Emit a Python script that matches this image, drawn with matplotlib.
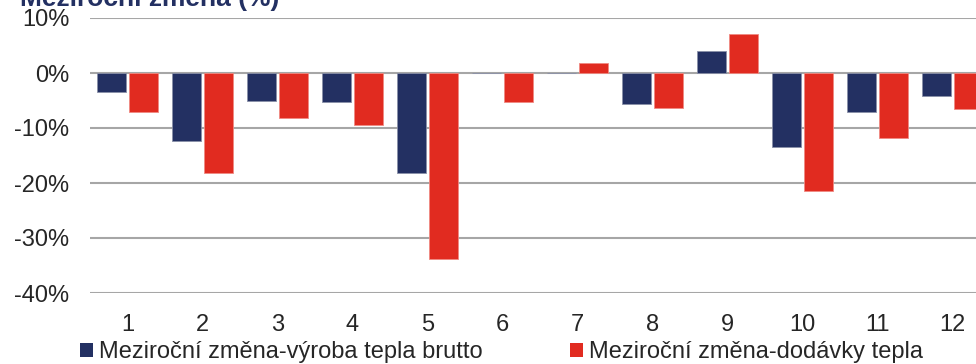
import numpy as np
import matplotlib.pyplot as plt
from matplotlib.patches import Patch

months = ["1", "2", "3", "4", "5", "6", "7", "8", "9", "10", "11", "12"]
vyroba = [-3.5, -12.4, -5.1, -5.3, -18.2, 0.0, 0.0, -5.6, 4.0, -13.5, -7.1, -4.1]
dodavky = [-7.1, -18.2, -8.2, -9.5, -33.8, -5.3, 1.8, -6.4, 7.1, -21.5, -11.8, -6.5]
yticks = [-40, -30, -20, -10, 0, 10]

navy = "#233062"
red = "#E12B20"
grid_c = "#A6A6A6"
txt_c = "#262626"

plt.rcParams['font.family'] = ['Liberation Sans', 'DejaVu Sans']

fig = plt.figure(figsize=(9.76, 3.64), dpi=100)
ax = fig.add_axes([90 / 976, 1 - 293 / 364, 900 / 976, 275 / 364])

x = np.arange(len(months))
w = 0.39
ax.bar(x - 0.215, vyroba, w, color=navy, edgecolor="#8A90A8", linewidth=0.6, zorder=3)
ax.bar(x + 0.215, dodavky, w, color=red, edgecolor="#F08A82", linewidth=0.6, zorder=3)

ax.set_xlim(-0.5, len(months) - 0.5)
ax.set_ylim(-40, 10)
ax.set_yticks(yticks)
ax.set_yticklabels([f"{v}%" for v in yticks])
ax.set_xticks(x)
ax.set_xticklabels(months)
ax.yaxis.grid(True, color=grid_c, linewidth=1.5, zorder=0)
ax.set_axisbelow(True)
for s in ax.spines.values():
    s.set_visible(False)
ax.tick_params(axis="y", length=0, pad=15, labelsize=17, labelcolor=txt_c)
ax.tick_params(axis="x", length=0, pad=15, labelsize=17, labelcolor=txt_c)

fig.text(20 / 976, 1 - 6 / 364, "Meziroční změna (%)", fontsize=19, fontweight="bold",
         color=navy, va="baseline", ha="left")

handles = [Patch(facecolor=navy, label="Meziroční změna-výroba tepla brutto"),
           Patch(facecolor=red, label="Meziroční změna-dodávky tepla")]
fig.legend(handles=handles, loc="center left", bbox_to_anchor=(80 / 976, 1 - 352 / 364),
           ncol=2, frameon=False, fontsize=17, handlelength=0.55, handleheight=0.55,
           handletextpad=0.25, columnspacing=3.7, borderpad=0, borderaxespad=0,
           labelcolor=txt_c)

fig.savefig("out.png", dpi=100)
